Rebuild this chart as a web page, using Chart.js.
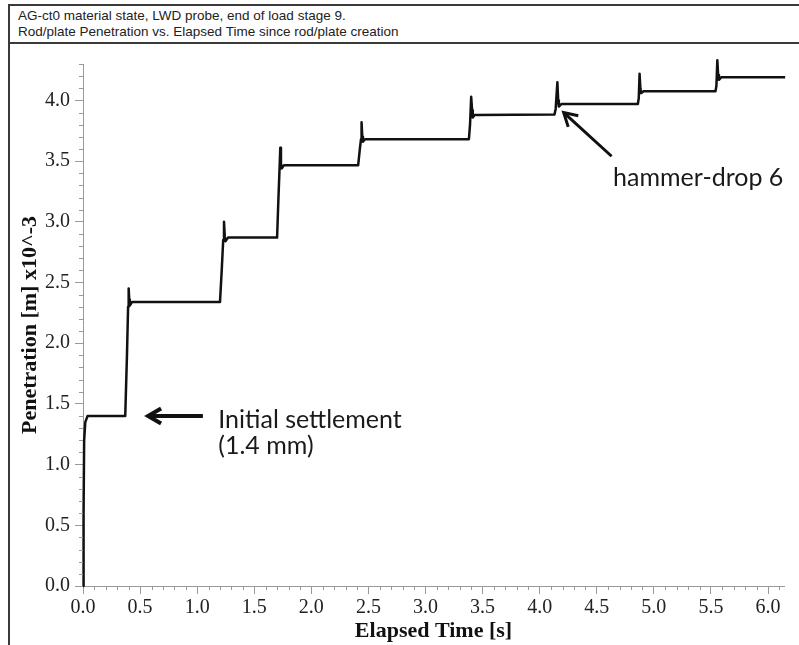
<!DOCTYPE html>
<html>
<head>
<meta charset="utf-8">
<title>Rod/plate Penetration vs. Elapsed Time</title>
<script src="https://cdn.jsdelivr.net/npm/chart.js@4.4.1/dist/chart.umd.min.js"></script>
<style>
  html, body { margin: 0; padding: 0; background: #fff; }
  #wrap { position: relative; width: 799px; height: 645px; overflow: hidden; }
  #frame {
    position: absolute; left: 8px; top: 4px; width: 800px; height: 660px;
    border-left: 2px solid #3a3a3a; border-top: 2px solid #3a3a3a;
  }
  #header {
    position: absolute; left: 8px; top: 4px; width: 800px; height: 40px;
    box-sizing: border-box; border-bottom: 2px solid #3a3a3a;
    padding: 4px 0 0 10px;
    font: 13.5px "Liberation Sans", Arial, sans-serif; line-height: 15.7px; color: #222;
  }
  #chart { position: absolute; left: 0; top: 0; }
</style>
</head>
<body>
<div id="wrap">
  <div id="frame"></div>
  <div id="header">
    AG-ct0 material state, LWD probe, end of load stage 9.<br>
    Rod/plate Penetration vs. Elapsed Time since rod/plate creation
  </div>
  <canvas id="chart" width="799" height="645"></canvas>
</div>
<script>
// elapsed time [s] and penetration [m] x10^-3, one hammer drop per step
const timeS = [
  0.000, 0.005, 0.010, 0.020, 0.040, 0.370,
  0.385, 0.395, 0.400, 0.405, 0.410, 0.430, 1.200,
  1.215, 1.228, 1.235, 1.242, 1.248, 1.270, 1.700,
  1.712, 1.722, 1.728, 1.734, 1.740, 1.760, 2.410,
  2.425, 2.435, 2.440, 2.446, 2.452, 2.470, 3.380,
  3.390, 3.400, 3.408, 3.414, 3.430, 4.130,
  4.140, 4.155, 4.162, 4.168, 4.190, 4.860,
  4.868, 4.875, 4.882, 4.888, 4.910, 5.540,
  5.548, 5.556, 5.563, 5.570, 5.590, 6.150
];
const penetration = [
  0.00, 0.60, 1.20, 1.35, 1.40, 1.40,
  1.90, 2.30, 2.45, 2.36, 2.31, 2.34, 2.34,
  2.60, 2.85, 3.00, 2.88, 2.84, 2.87, 2.87,
  3.20, 3.45, 3.61, 3.48, 3.44, 3.465, 3.465,
  3.60, 3.68, 3.82, 3.70, 3.66, 3.68, 3.68,
  3.80, 4.03, 3.92, 3.86, 3.88, 3.885,
  3.93, 4.15, 4.00, 3.95, 3.97, 3.97,
  4.02, 4.22, 4.10, 4.06, 4.075, 4.075,
  4.12, 4.33, 4.21, 4.17, 4.19, 4.19
];

const xTicks = [0.0, 0.5, 1.0, 1.5, 2.0, 2.5, 3.0, 3.5, 4.0, 4.5, 5.0, 5.5, 6.0];
const yTicks = [0.0, 0.5, 1.0, 1.5, 2.0, 2.5, 3.0, 3.5, 4.0];

const notes = [
  { lines: ['Initial settlement', '(1.4 mm)'], tail: [1.05, 1.40], tip: [0.57, 1.40], at: [1.185, 1.365], width: 4 },
  { lines: ['hammer-drop 6'], tail: [4.63, 3.54], tip: [4.21, 3.90], at: [4.643, 3.36], width: 3 }
];

const points = timeS.map((t, i) => ({ x: t, y: penetration[i] }));

// minor ticks every 0.1 plus the arrows and their captions
const extras = {
  id: 'extras',
  afterDraw(chart) {
    const { ctx, scales: { x, y } } = chart;
    ctx.save();
    ctx.strokeStyle = '#9a9a9a';
    ctx.lineWidth = 1;
    ctx.beginPath();
    for (let i = 0; i <= 61; i++) {
      if (i % 5 === 0) continue;
      const px = Math.round(x.getPixelForValue(i / 10)) + 0.5;
      ctx.moveTo(px, y.bottom);
      ctx.lineTo(px, y.bottom + 4);
    }
    for (let i = 0; i <= 43; i++) {
      if (i % 5 === 0) continue;
      const py = Math.round(y.getPixelForValue(i / 10)) + 0.5;
      ctx.moveTo(x.left - 4, py);
      ctx.lineTo(x.left, py);
    }
    ctx.stroke();

    ctx.strokeStyle = '#111';
    ctx.fillStyle = '#1a1a1a';
    notes.forEach(n => {
      const x1 = x.getPixelForValue(n.tail[0]), y1 = y.getPixelForValue(n.tail[1]);
      const x2 = x.getPixelForValue(n.tip[0]), y2 = y.getPixelForValue(n.tip[1]);
      const a = Math.atan2(y2 - y1, x2 - x1);
      const head = 15, spread = Math.PI / 6;
      ctx.lineWidth = n.width;
      ctx.lineCap = 'butt';
      ctx.lineJoin = 'miter';
      ctx.beginPath();
      ctx.moveTo(x1, y1);
      ctx.lineTo(x2 - Math.cos(a) * 2, y2 - Math.sin(a) * 2);
      ctx.stroke();
      ctx.beginPath();
      ctx.moveTo(x2 - head * Math.cos(a - spread), y2 - head * Math.sin(a - spread));
      ctx.lineTo(x2, y2);
      ctx.lineTo(x2 - head * Math.cos(a + spread), y2 - head * Math.sin(a + spread));
      ctx.stroke();

      ctx.font = '25px Lato, "Open Sans", sans-serif';
      ctx.textAlign = 'left';
      ctx.textBaseline = 'middle';
      const tx = x.getPixelForValue(n.at[0]);
      const ty = y.getPixelForValue(n.at[1]);
      n.lines.forEach((s, k) => ctx.fillText(s, tx, ty + k * 26));
    });
    ctx.restore();
  }
};

const tickFont = { family: '"Liberation Serif", "Times New Roman", serif', size: 20 };
const titleFont = { family: '"Liberation Serif", "Times New Roman", serif', size: 22, weight: 'bold' };

new Chart(document.getElementById('chart'), {
  type: 'line',
  data: {
    datasets: [{
      data: points,
      borderColor: '#111',
      borderWidth: 2.5,
      borderJoinStyle: 'round',
      pointRadius: 0,
      tension: 0,
      fill: false,
      clip: 8
    }]
  },
  options: {
    responsive: false,
    animation: false,
    devicePixelRatio: 1,
    layout: { padding: { top: 64, right: 15, left: 0, bottom: 0 } },
    plugins: { legend: { display: false }, tooltip: { enabled: false } },
    scales: {
      x: {
        type: 'linear',
        min: 0,
        max: 6.14,
        afterBuildTicks: s => { s.ticks = xTicks.map(v => ({ value: v })); },
        afterFit: s => { s.height = 59; },
        ticks: {
          color: '#222', font: tickFont, padding: 2, maxRotation: 0, autoSkip: false,
          callback: v => v.toFixed(1)
        },
        grid: { drawOnChartArea: false, drawTicks: true, tickLength: 8, tickColor: '#9a9a9a' },
        border: { color: '#9a9a9a', width: 1 },
        title: { display: true, text: 'Elapsed Time [s]', color: '#111', font: titleFont, padding: { top: 0, bottom: 0 } }
      },
      y: {
        type: 'linear',
        min: 0,
        max: 4.3,
        afterBuildTicks: s => { s.ticks = yTicks.map(v => ({ value: v })); },
        afterFit: s => { s.width = 83; },
        ticks: {
          color: '#222', font: tickFont, padding: 5, autoSkip: false,
          callback: v => v.toFixed(1)
        },
        grid: { drawOnChartArea: false, drawTicks: true, tickLength: 8, tickColor: '#9a9a9a' },
        border: { color: '#9a9a9a', width: 1 },
        title: { display: true, text: 'Penetration [m] x10^-3', color: '#111', font: titleFont, padding: { top: 17, bottom: 0 } }
      }
    }
  },
  plugins: [extras]
});
</script>
</body>
</html>
